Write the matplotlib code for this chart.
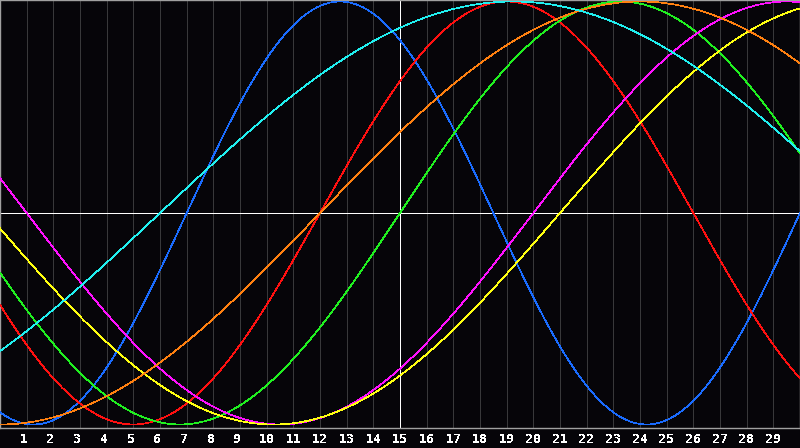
import numpy as np
import matplotlib
matplotlib.use("Agg")
import matplotlib.pyplot as plt
import matplotlib.transforms as mtransforms

# Biorhythm cycles
cycle_names = ["Physical", "Emotional", "Intellectual", "Intuitive",
               "Aesthetic", "Awareness", "Spiritual"]
cycle_periods = [23, 28, 33, 38, 43, 48, 53]          # days
cycle_day_at_start = [16, 16, 18, 18, 22, 36, 47]    # position in cycle at day 0
cycle_colors = ["#1a6cff", "#ff1010", "#20f020", "#ff10ff",
                "#ffff10", "#ff8010", "#20f0f0"]

day_labels = list(range(1, 30))
n_days = 30
today = 15

BG = "#060509"

plt.rcParams["text.antialiased"] = False
fig = plt.figure(figsize=(8.0, 4.48), dpi=100, facecolor=BG)
ax = fig.add_axes([0.0, 1 - 428 / 448, 1.0, 428 / 448])
ax.set_facecolor(BG)

ax.set_xlim(0, n_days)
top = 1 + 1.5 / 211.5
bottom = -1 - 3.5 / 211.5
ax.set_ylim(bottom, top)

for s in ax.spines.values():
    s.set_color("#a0a0a0")
    s.set_linewidth(1.0)

ax.set_xticks([])
ax.set_yticks([])

# day gridlines
for d in day_labels:
    ax.axvline(d, color="#38383a", lw=0.5, antialiased=False, zorder=1)

# center lines
ax.axhline(0, color="white", lw=0.6, antialiased=False, zorder=2)
ax.axvline(today, color="white", lw=0.6, antialiased=False, zorder=2)

t = np.linspace(0, n_days, 1601)
for name, P, p0, c in zip(cycle_names, cycle_periods, cycle_day_at_start, cycle_colors):
    y = np.sin(2 * np.pi * (p0 + t) / P)
    ax.plot(t, y, color=c, lw=0.5, antialiased=False, zorder=3, label=name)

trans = mtransforms.blended_transform_factory(ax.transData, fig.transFigure)
for d in day_labels:
    off = -0.1 if d < 10 else 0.0
    fig.text(d + off, 1 - 439 / 448, str(d), transform=trans, ha="center", va="center",
             color="white", fontsize=9.5, fontweight="bold", family="DejaVu Sans Mono")

fig.savefig("out.png", dpi=100, facecolor=BG)
